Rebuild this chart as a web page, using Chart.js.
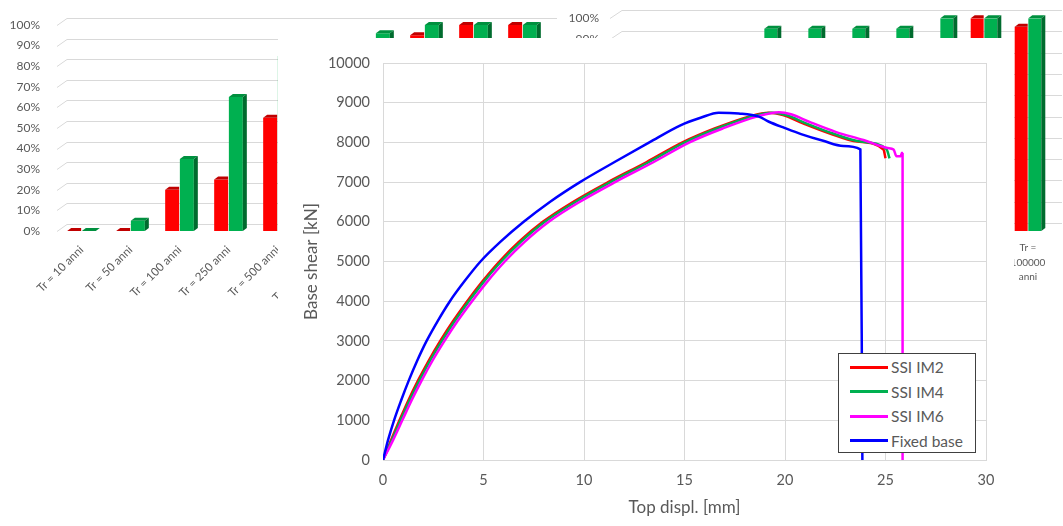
<!doctype html>
<html lang="en">
<head>
  <meta charset="utf-8">
  <title>Base shear - top displacement</title>
  <script src="https://cdn.jsdelivr.net/npm/chart.js"></script>
  <style>
    body { margin: 0; background: #fff; }
    #page { position: relative; width: 1063px; height: 526px; overflow: hidden; background: #fff; }
    #barsLeft { position: absolute; left: 0; top: 0; }
    #barsRight { position: absolute; left: 560px; top: 0; }
    #mainBox { position: absolute; left: 278px; top: 38px; width: 736px; height: 488px; background: #fff; }
    #legend { position: absolute; left: 560px; top: 315px; width: 138px; height: 100px; box-sizing: border-box;
      border: 1px solid #404040; background: #fff; padding-top: 1px;
      font-family: Lato, sans-serif; font-size: 15.5px; color: #595959; }
    #legend .row { height: 24.5px; display: flex; align-items: center; }
    #legend .swatch { width: 38px; height: 3px; margin-left: 11px; margin-right: 3px; }
  </style>
</head>
<body>
<div id="page">
  <canvas id="barsLeft" width="560" height="310"></canvas>
  <canvas id="barsRight" width="503" height="300"></canvas>
  <div id="mainBox">
    <canvas id="pushover" width="733" height="488"></canvas>
    <div id="legend"></div>
  </div>
</div>

<script>
// ---- background bar charts (mostly covered) ----
var leftCats = ["Tr = 10 anni", "Tr = 50 anni", "Tr = 100 anni", "Tr = 250 anni", "Tr = 500 anni",
                "Tr = 1000 anni", "Tr = 2500 anni", "Tr = 5000 anni", "Tr = 10000 anni", "Tr = 100000 anni"];
var leftRed   = [0, 0, 0.20, 0.25, 0.55, 0.75, 0.80, 0.95, 1, 1];
var leftGreen = [0, 0.05, 0.35, 0.65, 0.85, 0.88, 0.96, 1, 1, 1];

var rightCats = [["Tr =", "10 anni"], ["Tr =", "50 anni"], ["Tr =", "100 anni"], ["Tr =", "250 anni"], ["Tr =", "500 anni"],
                 ["Tr =", "1000 anni"], ["Tr =", "2500 anni"], ["Tr =", "5000 anni"], ["Tr =", "10000 anni"], ["Tr =", "100000", "anni"]];
var rightRed   = [0.40, 0.55, 0.65, 0.75, 0.80, 0.80, 0.80, 0.85, 1, 0.96];
var rightGreen = [0.60, 0.70, 0.80, 0.95, 0.95, 0.95, 0.95, 1, 1, 1];

// ---- main chart: top displacement [mm] vs base shear [kN] ----
var im2X = [0, 0.4, 0.82, 1.26, 1.74, 2.27, 2.85, 3.49, 4.19, 4.95, 5.79, 6.77, 7.95, 9.45, 11.2, 13.1, 14.9, 16.5, 18.2, 19.2, 19.9, 20.9, 22.2, 23.6, 24.9, 25.0];
var im2Y = [0, 500, 1000, 1500, 2000, 2500, 3000, 3500, 4000, 4500, 5000, 5500, 6000, 6500, 7000, 7500, 8000, 8350, 8650, 8750, 8690, 8480, 8230, 8020, 7820, 7600];

var im4X = [0, 0.44, 0.87, 1.32, 1.81, 2.34, 2.93, 3.57, 4.27, 5.03, 5.88, 6.87, 8.05, 9.57, 11.32, 13.22, 15.02, 16.62, 18.32, 19.35, 20.05, 21.05, 22.35, 23.75, 25.05, 25.2];
var im4Y = [0, 500, 1000, 1500, 2000, 2500, 3000, 3500, 4000, 4500, 5000, 5500, 6000, 6500, 7000, 7500, 8000, 8350, 8650, 8750, 8690, 8480, 8230, 8020, 7830, 7600];

var im6X = [0, 0.5, 0.96, 1.42, 1.92, 2.46, 3.06, 3.71, 4.43, 5.2, 6.06, 7.06, 8.25, 9.78, 11.55, 13.45, 15.25, 16.9, 18.6, 19.7, 20.3, 21.25, 22.55, 23.9, 25.1, 25.4, 25.55, 25.75, 25.82, 25.85, 25.85];
var im6Y = [0, 500, 1000, 1500, 2000, 2500, 3000, 3500, 4000, 4500, 5000, 5500, 6000, 6500, 7000, 7500, 8000, 8350, 8650, 8760, 8710, 8510, 8260, 8060, 7860, 7820, 7650, 7650, 7740, 7700, 0];

var fixedX = [0, 0.25, 0.55, 0.9, 1.28, 1.7, 2.17, 2.72, 3.33, 4.05, 4.85, 5.85, 7.0, 8.3, 9.8, 11.5, 13.25, 14.8, 15.8, 16.7, 17.7, 18.7, 19.2, 20.0, 20.8, 21.9, 22.9, 23.75, 23.85];
var fixedY = [0, 500, 1000, 1500, 2000, 2500, 3000, 3500, 4000, 4500, 5000, 5500, 6000, 6500, 7000, 7500, 8000, 8430, 8620, 8750, 8730, 8650, 8520, 8360, 8210, 8040, 7910, 7825, 0];

var FONT = "Lato, 'Open Sans', sans-serif";
var GRAY = '#595959';
var GRID = '#d9d9d9';

function toPoints(xs, ys) {
  return xs.map(function (x, i) { return { x: x, y: ys[i] }; });
}

// fake 3D: back wall gridlines plus top/side faces on the bars
function depth3d(bdx, bdy, wdx, wdy) {
  return {
    id: 'depth3d',
    beforeDatasetsDraw: function (chart) {
      var ctx = chart.ctx, a = chart.chartArea, y = chart.scales.y;
      ctx.save();
      ctx.strokeStyle = GRID;
      ctx.lineWidth = 1;
      y.ticks.forEach(function (t) {
        var py = Math.round(y.getPixelForValue(t.value)) + 0.5;
        ctx.beginPath();
        ctx.moveTo(a.left, py);
        ctx.lineTo(a.left + wdx, py - wdy);
        ctx.lineTo(a.right + wdx, py - wdy);
        ctx.stroke();
      });
      ctx.restore();
    },
    afterDatasetsDraw: function (chart) {
      var ctx = chart.ctx;
      ctx.save();
      chart.data.datasets.forEach(function (ds, di) {
        chart.getDatasetMeta(di).data.forEach(function (bar) {
          var p = bar.getProps(['x', 'y', 'base', 'width'], true);
          var l = p.x - p.width / 2, r = p.x + p.width / 2;
          ctx.fillStyle = ds.topColor;
          ctx.beginPath();
          ctx.moveTo(l, p.y);
          ctx.lineTo(r, p.y);
          if (ds.sideColor) {
            ctx.lineTo(r + bdx, p.y - bdy);
          } else {
            ctx.lineTo(r, p.y - bdy);
          }
          ctx.lineTo(l + bdx, p.y - bdy);
          ctx.closePath();
          ctx.fill();
          if (ds.sideColor) {
            ctx.fillStyle = ds.sideColor;
            ctx.beginPath();
            ctx.moveTo(r, p.y);
            ctx.lineTo(r + bdx, p.y - bdy);
            ctx.lineTo(r + bdx, p.base - bdy);
            ctx.lineTo(r, p.base);
            ctx.closePath();
            ctx.fill();
          }
        });
      });
      ctx.restore();
    }
  };
}

function barOptions(yWidth, xHeight, pad, tickPad, rotated, xFont) {
  return {
    responsive: false,
    animation: false,
    layout: { padding: pad },
    plugins: { legend: { display: false }, tooltip: { enabled: false } },
    scales: {
      x: {
        grid: { display: false, drawTicks: false },
        border: { display: false },
        ticks: {
          color: GRAY, font: xFont, autoSkip: false,
          minRotation: rotated ? 45 : 0, maxRotation: rotated ? 45 : 0, padding: rotated ? 12 : 10
        },
        afterFit: function (s) { s.height = xHeight; }
      },
      y: {
        min: 0, max: 1,
        grid: { display: false, drawTicks: false },
        border: { display: false },
        ticks: {
          stepSize: 0.1, color: GRAY, font: { family: FONT, size: 12 }, padding: tickPad,
          callback: function (v) { return Math.round(v * 100) + '%'; }
        },
        afterFit: function (s) { s.width = yWidth; }
      }
    }
  };
}

function barSets(red, green, pct) {
  return [
    { data: red, backgroundColor: '#ff0000', topColor: '#c00000', categoryPercentage: pct, barPercentage: 0.95 },
    { data: green, backgroundColor: '#00b050', topColor: '#00903f', sideColor: '#006b2e', categoryPercentage: pct, barPercentage: 0.95 }
  ];
}

new Chart(document.getElementById('barsLeft'), {
  type: 'bar',
  data: { labels: leftCats, datasets: barSets(leftRed, leftGreen, 0.6) },
  options: barOptions(57, 79, { left: 0, top: 25, right: 13, bottom: 0 }, 17, true,
    { family: FONT, size: 11.5 }),
  plugins: [depth3d(4, 3, 10, 7)]
});

new Chart(document.getElementById('barsRight'), {
  type: 'bar',
  data: { labels: rightCats, datasets: barSets(rightRed, rightGreen, 0.62) },
  options: barOptions(50, 69, { left: 0, top: 17, right: 13, bottom: 0 }, 11, false,
    { family: FONT, size: 10, lineHeight: 1.45 }),
  plugins: [depth3d(4, 3, 12, 8)]
});

// ---- main chart ----
var series = [
  { label: 'SSI IM2', color: '#ff0000', xs: im2X, ys: im2Y, order: 4 },
  { label: 'SSI IM4', color: '#00b050', xs: im4X, ys: im4Y, order: 3 },
  { label: 'SSI IM6', color: '#ff00ff', xs: im6X, ys: im6Y, order: 2 },
  { label: 'Fixed base', color: '#0000ff', xs: fixedX, ys: fixedY, order: 1 }
];

new Chart(document.getElementById('pushover'), {
  type: 'scatter',
  data: {
    datasets: series.map(function (s) {
      return {
        label: s.label,
        data: toPoints(s.xs, s.ys),
        showLine: true,
        borderColor: s.color,
        backgroundColor: s.color,
        borderWidth: 2.5,
        pointRadius: 0,
        cubicInterpolationMode: 'monotone',
        order: s.order
      };
    })
  },
  options: {
    responsive: false,
    animation: false,
    layout: { padding: { left: 0, top: 25, right: 25, bottom: 0 } },
    plugins: { legend: { display: false }, tooltip: { enabled: false } },
    scales: {
      x: {
        type: 'linear', min: 0, max: 30,
        grid: { color: GRID, drawTicks: false },
        border: { color: GRID },
        ticks: { stepSize: 5, color: GRAY, font: { family: FONT, size: 14.5 }, padding: 12 },
        title: { display: true, text: 'Top displ. [mm]', color: GRAY, font: { family: FONT, size: 17 }, padding: { top: 0, bottom: 8 } },
        afterFit: function (s) { s.height = 66; }
      },
      y: {
        min: 0, max: 10000,
        grid: { color: GRID, drawTicks: false },
        border: { color: GRID },
        ticks: {
          stepSize: 1000, color: GRAY, font: { family: FONT, size: 14.5 }, padding: 13,
          callback: function (v) { return String(v); }
        },
        title: { display: true, text: 'Base shear [kN]', color: GRAY, font: { family: FONT, size: 17 }, padding: { top: 23, bottom: 0 } },
        afterFit: function (s) { s.width = 105; }
      }
    }
  }
});

// legend box inside the plot area
var legend = document.getElementById('legend');
series.forEach(function (s) {
  var row = document.createElement('div');
  row.className = 'row';
  var sw = document.createElement('span');
  sw.className = 'swatch';
  sw.style.background = s.color;
  var tx = document.createElement('span');
  tx.textContent = s.label;
  row.appendChild(sw);
  row.appendChild(tx);
  legend.appendChild(row);
});
</script>
</body>
</html>
